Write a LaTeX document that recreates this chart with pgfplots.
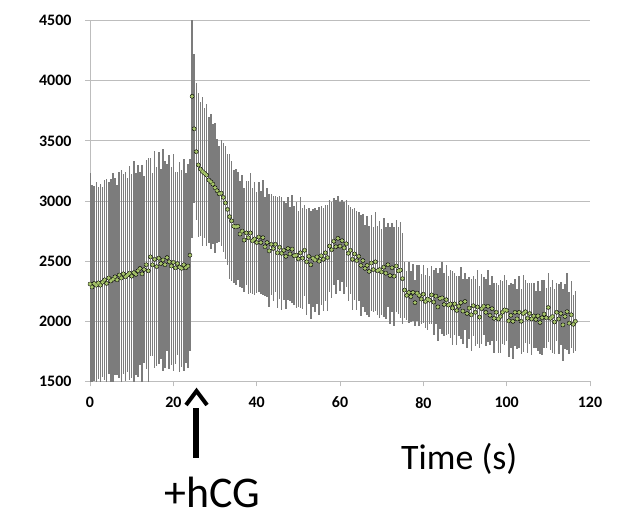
\documentclass[border=0pt]{standalone}
\usepackage{pgfplots}
\usepackage{pgfplotstable}
\pgfplotsset{compat=1.18}
\usepackage{fontspec}
\setmainfont{Carlito}
\definecolor{barcol}{HTML}{7C7C7C}
\definecolor{dotcol}{HTML}{A6C46A}
\definecolor{gridcol}{HTML}{BDBDBD}

\pgfplotstableread{
t m e
0 2310 920
0.5 2285 850
1 2315 810
1.5 2300 860
2 2320 800
2.5 2300 840
3 2325 790
3.5 2345 830
4 2315 870
4.5 2360 800
5 2335 850
5.5 2350 880
6 2370 820
6.5 2345 790
7 2385 860
7.5 2360 900
8 2395 830
8.5 2370 870
9 2385 810
9.5 2400 890
10 2375 850
10.5 2405 930
11 2390 840
11.5 2420 880
12 2440 800
12.5 2395 900
13 2430 780
13.5 2470 870
14 2420 940
14.5 2536 820
15 2470 760
15.5 2515 900
16 2455 830
16.5 2525 880
17 2480 790
17.5 2510 920
18 2470 860
18.5 2530 780
19 2495 890
19.5 2460 820
20 2490 900
20.5 2445 800
21 2480 760
21.5 2450 870
22 2440 820
22.5 2470 880
23 2445 790
23.5 2460 850
24 2550 800
24.5 3870 1180
25 3600 620
25.5 3410 570
26 3300 600
26.5 3265 560
27 3245 620
27.5 3230 540
28 3215 590
28.5 3175 520
29 3160 560
29.5 3140 500
30 3110 540
30.5 3085 430
31 3060 400
31.5 3065 440
32 3030 450
32.5 2985 470
33 2930 460
33.5 2870 520
34 2835 500
34.5 2790 470
35 2785 480
35.5 2790 450
36 2725 440
36.5 2750 470
37 2675 430
37.5 2735 430
38 2695 470
38.5 2735 500
39 2670 440
39.5 2685 470
40 2655 420
40.5 2700 460
41 2655 430
41.5 2695 480
42 2620 410
42.5 2655 450
43 2585 470
43.5 2640 420
44 2605 440
44.5 2640 400
45 2570 460
45.5 2615 430
46 2565 470
46.5 2590 410
47 2540 440
47.5 2605 430
48 2560 390
48.5 2600 450
49 2545 410
49.5 2550 440
50 2520 400
50.5 2570 460
51 2525 420
51.5 2590 380
52 2495 440
52.5 2540 400
53 2470 450
53.5 2525 410
54 2510 430
54.5 2535 390
55 2500 450
55.5 2545 410
56 2515 430
56.5 2570 400
57 2530 440
57.5 2625 380
58 2595 400
58.5 2665 360
59 2620 390
59.5 2690 350
60 2625 370
60.5 2670 340
61 2610 380
61.5 2645 360
62 2565 400
62.5 2590 360
63 2515 420
63.5 2560 380
64 2505 410
64.5 2540 370
65 2465 420
65.5 2505 390
66 2440 360
66.5 2465 410
67 2415 380
67.5 2485 400
68 2430 350
68.5 2495 410
69 2420 370
69.5 2430 400
70 2410 360
70.5 2450 410
71 2400 380
71.5 2470 350
72 2380 400
72.5 2445 370
73 2375 410
73.5 2460 380
74 2420 360
74.5 2425 400
75 2355 380
75.5 2260 230
76 2215 200
76.5 2240 250
77 2205 210
77.5 2240 240
78 2155 190
78.5 2235 230
79 2215 250
79.5 2185 210
80 2225 240
80.5 2165 220
81 2185 260
81.5 2175 200
82 2220 240
82.5 2160 270
83 2210 230
83.5 2120 280
84 2190 250
84.5 2195 300
85 2140 260
85.5 2180 290
86 2135 240
86.5 2145 280
87 2110 310
87.5 2145 260
88 2090 290
88.5 2125 250
89 2155 300
89.5 2085 270
90 2165 240
90.5 2065 290
91 2110 260
91.5 2055 300
92 2130 250
92.5 2075 280
93 2120 310
93.5 2035 260
94 2105 290
94.5 2125 240
95 2075 280
95.5 2125 300
96 2050 250
96.5 2105 270
97 2025 290
97.5 2075 240
98 2020 280
98.5 2040 300
99 2075 260
99.5 2095 290
100 2090 250
100.5 2005 300
101 2050 270
101.5 2000 310
102 2075 280
102.5 2020 250
103 2075 300
103.5 2000 270
104 2065 320
104.5 2080 260
105 2025 290
105.5 2065 250
106 2020 300
106.5 2045 270
107 2015 240
107.5 2045 290
108 1990 260
108.5 2030 310
109 2060 280
109.5 2030 250
110 2115 290
110.5 2025 260
111 2040 300
111.5 1995 270
112 2075 240
112.5 2020 290
113 2065 260
113.5 1970 300
114 2040 270
114.5 2080 320
115 1985 260
115.5 2055 280
116 1975 240
116.5 2000 250
}\datatable

\begin{document}
\begin{tikzpicture}
\path[use as bounding box] (0,0) rectangle (629bp,516bp);
\begin{axis}[
  scale only axis,
  width=500bp, height=361bp,
  at={(90bp,134.5bp)}, anchor=south west,
  xmin=0, xmax=120, ymin=1500, ymax=4500,
  xtick={0,20,...,120},
  ytick={1500,2000,...,4500},
  axis x line*=bottom, axis y line*=left,
  axis line style={draw=gridcol, line width=0.8bp},
  ymajorgrids,
  grid style={draw=gridcol, line width=0.8bp},
  tick align=outside,
  major tick length=5bp,
  tick style={draw=gridcol, line width=0.8bp},
  /pgf/number format/assume math mode=true,
  /pgf/number format/1000 sep={},
  ticklabel style={font=\fontsize{16}{18}\selectfont\bfseries, text=black},
  xticklabel style={yshift=-7bp},
  yticklabel style={xshift=-10bp},
  clip=true,
]
\addplot[only marks, mark=none,
  error bars/.cd, y dir=both, y explicit, error mark=none,
  error bar style={draw=barcol, line width=1.5bp}]
  table[x=t, y=m, y error=e] {\datatable};
\addplot[only marks, mark=*, mark size=1.8bp,
  mark options={draw=dotcol, fill=dotcol, line width=0.1bp}]
  table[x=t, y=m] {\datatable};
\end{axis}
\node[anchor=base west, inner sep=0, font=\fontsize{44}{50}\selectfont] at (164bp,9bp) {+hCG};
\node[anchor=base west, inner sep=0, font=\fontsize{36}{40}\selectfont] at (401bp,46bp) {Time (s)};
\draw[line width=5.5bp] (196bp,58bp) -- (196bp,108bp);
\draw[line width=4bp] (186bp,111bp) -- (196.5bp,125bp) -- (207bp,111bp);
\end{tikzpicture}
\end{document}
